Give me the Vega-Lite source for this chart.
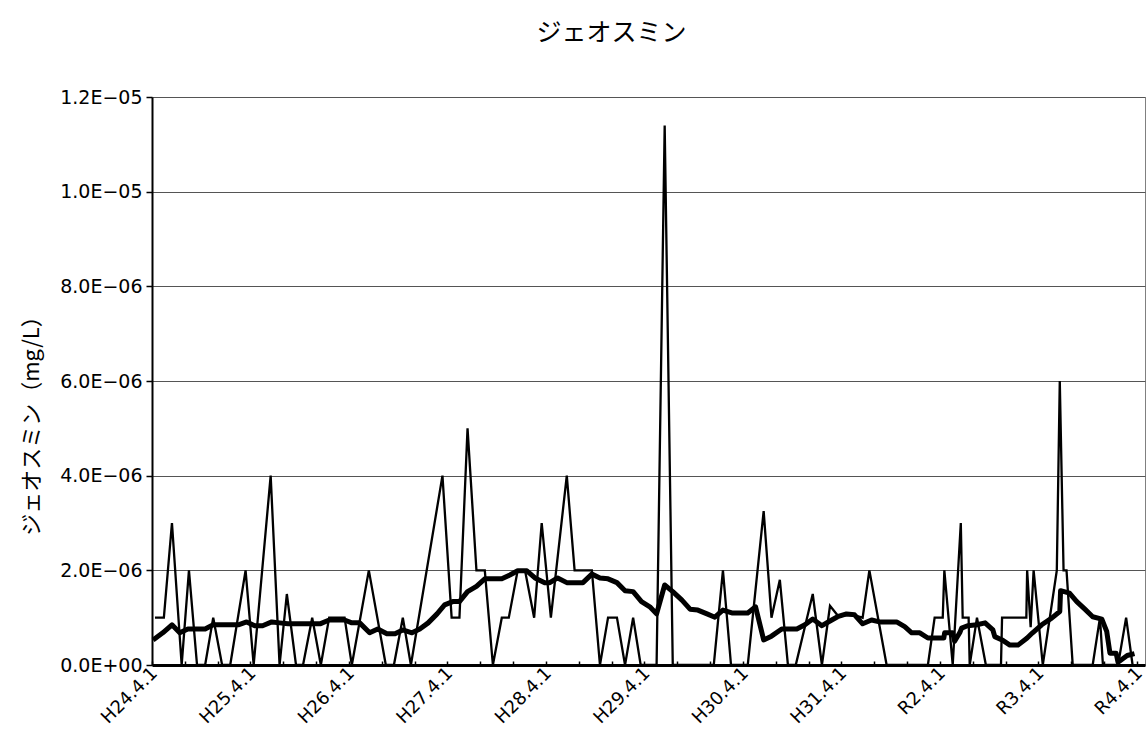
{
  "$schema": "https://vega.github.io/schema/vega-lite/v6.json",
  "width": 993,
  "height": 568,
  "autosize": {"type": "none"},
  "padding": {"left": 152, "top": 97, "right": 3, "bottom": 82},
  "background": "white",
  "config": {
    "view": {"stroke": "#808080", "strokeWidth": 1},
    "font": "DejaVu Sans"
  },
  "title": {
    "text": "ジェオスミン",
    "font": "Noto Sans CJK JP",
    "fontSize": 25,
    "fontWeight": "normal",
    "color": "black",
    "anchor": "middle",
    "frame": "group",
    "dx": -37,
    "offset": 42
  },
  "data": {
    "values": [
      {"date": "2012-04-12", "series": "raw", "value": 1e-6},
      {"date": "2012-05-15", "series": "raw", "value": 1e-6},
      {"date": "2012-06-14", "series": "raw", "value": 3e-6},
      {"date": "2012-07-20", "series": "raw", "value": 0},
      {"date": "2012-08-16", "series": "raw", "value": 2e-6},
      {"date": "2012-09-15", "series": "raw", "value": 0},
      {"date": "2012-10-15", "series": "raw", "value": 0},
      {"date": "2012-11-14", "series": "raw", "value": 1e-6},
      {"date": "2012-12-17", "series": "raw", "value": 0},
      {"date": "2013-01-16", "series": "raw", "value": 0},
      {"date": "2013-03-14", "series": "raw", "value": 2e-6},
      {"date": "2013-04-13", "series": "raw", "value": 0},
      {"date": "2013-06-15", "series": "raw", "value": 4e-6},
      {"date": "2013-07-18", "series": "raw", "value": 0},
      {"date": "2013-08-14", "series": "raw", "value": 1.5e-6},
      {"date": "2013-09-17", "series": "raw", "value": 0},
      {"date": "2013-10-13", "series": "raw", "value": 0},
      {"date": "2013-11-16", "series": "raw", "value": 1e-6},
      {"date": "2013-12-18", "series": "raw", "value": 0},
      {"date": "2014-01-18", "series": "raw", "value": 1e-6},
      {"date": "2014-02-16", "series": "raw", "value": 1e-6},
      {"date": "2014-03-16", "series": "raw", "value": 1e-6},
      {"date": "2014-04-12", "series": "raw", "value": 0},
      {"date": "2014-06-14", "series": "raw", "value": 2e-6},
      {"date": "2014-08-16", "series": "raw", "value": 0},
      {"date": "2014-09-15", "series": "raw", "value": 0},
      {"date": "2014-10-18", "series": "raw", "value": 1e-6},
      {"date": "2014-11-17", "series": "raw", "value": 0},
      {"date": "2015-03-14", "series": "raw", "value": 4e-6},
      {"date": "2015-04-17", "series": "raw", "value": 1e-6},
      {"date": "2015-05-16", "series": "raw", "value": 1e-6},
      {"date": "2015-06-15", "series": "raw", "value": 5e-6},
      {"date": "2015-07-18", "series": "raw", "value": 2e-6},
      {"date": "2015-08-18", "series": "raw", "value": 2e-6},
      {"date": "2015-09-17", "series": "raw", "value": 0},
      {"date": "2015-10-20", "series": "raw", "value": 1e-6},
      {"date": "2015-11-15", "series": "raw", "value": 1e-6},
      {"date": "2015-12-18", "series": "raw", "value": 2e-6},
      {"date": "2016-01-14", "series": "raw", "value": 2e-6},
      {"date": "2016-02-17", "series": "raw", "value": 1e-6},
      {"date": "2016-03-16", "series": "raw", "value": 3e-6},
      {"date": "2016-04-19", "series": "raw", "value": 1e-6},
      {"date": "2016-06-17", "series": "raw", "value": 4e-6},
      {"date": "2016-07-16", "series": "raw", "value": 2e-6},
      {"date": "2016-08-16", "series": "raw", "value": 2e-6},
      {"date": "2016-09-18", "series": "raw", "value": 2e-6},
      {"date": "2016-10-18", "series": "raw", "value": 0},
      {"date": "2016-11-17", "series": "raw", "value": 1e-6},
      {"date": "2016-12-20", "series": "raw", "value": 1e-6},
      {"date": "2017-01-19", "series": "raw", "value": 0},
      {"date": "2017-02-18", "series": "raw", "value": 1e-6},
      {"date": "2017-03-18", "series": "raw", "value": 0},
      {"date": "2017-04-17", "series": "raw", "value": 0},
      {"date": "2017-05-16", "series": "raw", "value": 0},
      {"date": "2017-06-15", "series": "raw", "value": 1.14e-5},
      {"date": "2017-07-15", "series": "raw", "value": 0},
      {"date": "2017-08-14", "series": "raw", "value": 0},
      {"date": "2017-09-17", "series": "raw", "value": 0},
      {"date": "2017-10-16", "series": "raw", "value": 0},
      {"date": "2017-11-15", "series": "raw", "value": 0},
      {"date": "2017-12-14", "series": "raw", "value": 0},
      {"date": "2018-01-17", "series": "raw", "value": 2e-6},
      {"date": "2018-02-16", "series": "raw", "value": 0},
      {"date": "2018-03-16", "series": "raw", "value": 0},
      {"date": "2018-04-19", "series": "raw", "value": 0},
      {"date": "2018-06-17", "series": "raw", "value": 3.25e-6},
      {"date": "2018-07-16", "series": "raw", "value": 1e-6},
      {"date": "2018-08-16", "series": "raw", "value": 1.8e-6},
      {"date": "2018-09-15", "series": "raw", "value": 0},
      {"date": "2018-10-14", "series": "raw", "value": 0},
      {"date": "2018-12-16", "series": "raw", "value": 1.5e-6},
      {"date": "2019-01-19", "series": "raw", "value": 0},
      {"date": "2019-02-18", "series": "raw", "value": 1.25e-6},
      {"date": "2019-03-18", "series": "raw", "value": 1.05e-6},
      {"date": "2019-04-20", "series": "raw", "value": 1.05e-6},
      {"date": "2019-05-20", "series": "raw", "value": 1.05e-6},
      {"date": "2019-06-19", "series": "raw", "value": 1e-6},
      {"date": "2019-07-14", "series": "raw", "value": 2e-6},
      {"date": "2019-09-16", "series": "raw", "value": 0},
      {"date": "2019-10-16", "series": "raw", "value": 0},
      {"date": "2019-11-19", "series": "raw", "value": 0},
      {"date": "2019-12-18", "series": "raw", "value": 0},
      {"date": "2020-01-17", "series": "raw", "value": 0},
      {"date": "2020-02-16", "series": "raw", "value": 0},
      {"date": "2020-03-12", "series": "raw", "value": 1e-6},
      {"date": "2020-04-11", "series": "raw", "value": 1e-6},
      {"date": "2020-04-17", "series": "raw", "value": 2e-6},
      {"date": "2020-05-18", "series": "raw", "value": 0},
      {"date": "2020-06-17", "series": "raw", "value": 3e-6},
      {"date": "2020-06-24", "series": "raw", "value": 1e-6},
      {"date": "2020-07-16", "series": "raw", "value": 1e-6},
      {"date": "2020-07-20", "series": "raw", "value": 0},
      {"date": "2020-08-16", "series": "raw", "value": 1e-6},
      {"date": "2020-09-18", "series": "raw", "value": 0},
      {"date": "2020-10-18", "series": "raw", "value": 0},
      {"date": "2020-11-13", "series": "raw", "value": 0},
      {"date": "2020-11-17", "series": "raw", "value": 1e-6},
      {"date": "2020-12-16", "series": "raw", "value": 1e-6},
      {"date": "2021-01-15", "series": "raw", "value": 1e-6},
      {"date": "2021-02-15", "series": "raw", "value": 1e-6},
      {"date": "2021-02-18", "series": "raw", "value": 2e-6},
      {"date": "2021-03-03", "series": "raw", "value": 0.8e-6},
      {"date": "2021-03-14", "series": "raw", "value": 2e-6},
      {"date": "2021-04-17", "series": "raw", "value": 0},
      {"date": "2021-06-08", "series": "raw", "value": 2e-6},
      {"date": "2021-06-19", "series": "raw", "value": 6e-6},
      {"date": "2021-07-03", "series": "raw", "value": 2e-6},
      {"date": "2021-07-14", "series": "raw", "value": 2e-6},
      {"date": "2021-08-06", "series": "raw", "value": 0},
      {"date": "2021-09-16", "series": "raw", "value": 0},
      {"date": "2021-10-19", "series": "raw", "value": 0},
      {"date": "2021-11-15", "series": "raw", "value": 1e-6},
      {"date": "2021-11-26", "series": "raw", "value": 0},
      {"date": "2021-12-21", "series": "raw", "value": 0},
      {"date": "2022-01-21", "series": "raw", "value": 0},
      {"date": "2022-02-20", "series": "raw", "value": 1e-6},
      {"date": "2022-03-16", "series": "raw", "value": 0},

      {"date": "2012-04-05", "series": "avg", "value": 0.53e-6},
      {"date": "2012-05-11", "series": "avg", "value": 0.68e-6},
      {"date": "2012-06-14", "series": "avg", "value": 0.85e-6},
      {"date": "2012-07-13", "series": "avg", "value": 0.68e-6},
      {"date": "2012-08-12", "series": "avg", "value": 0.76e-6},
      {"date": "2012-10-15", "series": "avg", "value": 0.76e-6},
      {"date": "2012-11-14", "series": "avg", "value": 0.85e-6},
      {"date": "2013-02-15", "series": "avg", "value": 0.85e-6},
      {"date": "2013-03-18", "series": "avg", "value": 0.91e-6},
      {"date": "2013-04-17", "series": "avg", "value": 0.83e-6},
      {"date": "2013-05-16", "series": "avg", "value": 0.83e-6},
      {"date": "2013-06-19", "series": "avg", "value": 0.91e-6},
      {"date": "2013-07-18", "series": "avg", "value": 0.89e-6},
      {"date": "2013-08-18", "series": "avg", "value": 0.87e-6},
      {"date": "2013-12-15", "series": "avg", "value": 0.87e-6},
      {"date": "2014-01-18", "series": "avg", "value": 0.95e-6},
      {"date": "2014-03-16", "series": "avg", "value": 0.95e-6},
      {"date": "2014-04-12", "series": "avg", "value": 0.89e-6},
      {"date": "2014-05-11", "series": "avg", "value": 0.89e-6},
      {"date": "2014-06-17", "series": "avg", "value": 0.68e-6},
      {"date": "2014-07-17", "series": "avg", "value": 0.76e-6},
      {"date": "2014-08-20", "series": "avg", "value": 0.66e-6},
      {"date": "2014-09-19", "series": "avg", "value": 0.66e-6},
      {"date": "2014-10-18", "series": "avg", "value": 0.74e-6},
      {"date": "2014-11-21", "series": "avg", "value": 0.68e-6},
      {"date": "2014-12-20", "series": "avg", "value": 0.76e-6},
      {"date": "2015-01-20", "series": "avg", "value": 0.89e-6},
      {"date": "2015-02-22", "series": "avg", "value": 1.08e-6},
      {"date": "2015-03-22", "series": "avg", "value": 1.27e-6},
      {"date": "2015-04-21", "series": "avg", "value": 1.34e-6},
      {"date": "2015-05-16", "series": "avg", "value": 1.34e-6},
      {"date": "2015-06-15", "series": "avg", "value": 1.55e-6},
      {"date": "2015-07-18", "series": "avg", "value": 1.66e-6},
      {"date": "2015-08-18", "series": "avg", "value": 1.82e-6},
      {"date": "2015-10-20", "series": "avg", "value": 1.82e-6},
      {"date": "2015-11-19", "series": "avg", "value": 1.9e-6},
      {"date": "2015-12-18", "series": "avg", "value": 1.99e-6},
      {"date": "2016-01-21", "series": "avg", "value": 1.99e-6},
      {"date": "2016-02-20", "series": "avg", "value": 1.84e-6},
      {"date": "2016-03-27", "series": "avg", "value": 1.74e-6},
      {"date": "2016-04-15", "series": "avg", "value": 1.74e-6},
      {"date": "2016-05-14", "series": "avg", "value": 1.84e-6},
      {"date": "2016-06-17", "series": "avg", "value": 1.74e-6},
      {"date": "2016-08-16", "series": "avg", "value": 1.74e-6},
      {"date": "2016-09-18", "series": "avg", "value": 1.92e-6},
      {"date": "2016-10-18", "series": "avg", "value": 1.84e-6},
      {"date": "2016-11-17", "series": "avg", "value": 1.82e-6},
      {"date": "2016-12-20", "series": "avg", "value": 1.74e-6},
      {"date": "2017-01-19", "series": "avg", "value": 1.57e-6},
      {"date": "2017-02-18", "series": "avg", "value": 1.55e-6},
      {"date": "2017-03-21", "series": "avg", "value": 1.34e-6},
      {"date": "2017-04-21", "series": "avg", "value": 1.23e-6},
      {"date": "2017-05-16", "series": "avg", "value": 1.08e-6},
      {"date": "2017-06-15", "series": "avg", "value": 1.69e-6},
      {"date": "2017-07-15", "series": "avg", "value": 1.55e-6},
      {"date": "2017-08-18", "series": "avg", "value": 1.37e-6},
      {"date": "2017-09-17", "series": "avg", "value": 1.18e-6},
      {"date": "2017-10-16", "series": "avg", "value": 1.16e-6},
      {"date": "2017-11-19", "series": "avg", "value": 1.08e-6},
      {"date": "2017-12-18", "series": "avg", "value": 1.01e-6},
      {"date": "2018-01-17", "series": "avg", "value": 1.16e-6},
      {"date": "2018-02-19", "series": "avg", "value": 1.1e-6},
      {"date": "2018-04-19", "series": "avg", "value": 1.1e-6},
      {"date": "2018-05-18", "series": "avg", "value": 1.23e-6},
      {"date": "2018-06-17", "series": "avg", "value": 0.53e-6},
      {"date": "2018-07-16", "series": "avg", "value": 0.61e-6},
      {"date": "2018-08-23", "series": "avg", "value": 0.76e-6},
      {"date": "2018-10-18", "series": "avg", "value": 0.76e-6},
      {"date": "2018-11-17", "series": "avg", "value": 0.85e-6},
      {"date": "2018-12-16", "series": "avg", "value": 0.97e-6},
      {"date": "2019-01-19", "series": "avg", "value": 0.83e-6},
      {"date": "2019-02-18", "series": "avg", "value": 0.93e-6},
      {"date": "2019-03-18", "series": "avg", "value": 1.02e-6},
      {"date": "2019-04-20", "series": "avg", "value": 1.08e-6},
      {"date": "2019-05-20", "series": "avg", "value": 1.06e-6},
      {"date": "2019-06-19", "series": "avg", "value": 0.87e-6},
      {"date": "2019-07-22", "series": "avg", "value": 0.95e-6},
      {"date": "2019-08-21", "series": "avg", "value": 0.91e-6},
      {"date": "2019-10-23", "series": "avg", "value": 0.91e-6},
      {"date": "2019-11-22", "series": "avg", "value": 0.81e-6},
      {"date": "2019-12-18", "series": "avg", "value": 0.68e-6},
      {"date": "2020-01-17", "series": "avg", "value": 0.68e-6},
      {"date": "2020-02-16", "series": "avg", "value": 0.57e-6},
      {"date": "2020-04-15", "series": "avg", "value": 0.57e-6},
      {"date": "2020-04-18", "series": "avg", "value": 0.68e-6},
      {"date": "2020-05-18", "series": "avg", "value": 0.68e-6},
      {"date": "2020-05-25", "series": "avg", "value": 0.5e-6},
      {"date": "2020-06-13", "series": "avg", "value": 0.68e-6},
      {"date": "2020-06-20", "series": "avg", "value": 0.78e-6},
      {"date": "2020-07-12", "series": "avg", "value": 0.83e-6},
      {"date": "2020-08-16", "series": "avg", "value": 0.85e-6},
      {"date": "2020-09-15", "series": "avg", "value": 0.89e-6},
      {"date": "2020-10-14", "series": "avg", "value": 0.74e-6},
      {"date": "2020-10-21", "series": "avg", "value": 0.6e-6},
      {"date": "2020-11-17", "series": "avg", "value": 0.53e-6},
      {"date": "2020-12-16", "series": "avg", "value": 0.42e-6},
      {"date": "2021-01-15", "series": "avg", "value": 0.42e-6},
      {"date": "2021-02-18", "series": "avg", "value": 0.57e-6},
      {"date": "2021-03-10", "series": "avg", "value": 0.68e-6},
      {"date": "2021-04-13", "series": "avg", "value": 0.85e-6},
      {"date": "2021-05-20", "series": "avg", "value": 0.99e-6},
      {"date": "2021-06-19", "series": "avg", "value": 1.13e-6},
      {"date": "2021-06-22", "series": "avg", "value": 1.57e-6},
      {"date": "2021-07-25", "series": "avg", "value": 1.52e-6},
      {"date": "2021-08-21", "series": "avg", "value": 1.34e-6},
      {"date": "2021-09-20", "series": "avg", "value": 1.18e-6},
      {"date": "2021-10-19", "series": "avg", "value": 1.02e-6},
      {"date": "2021-11-22", "series": "avg", "value": 0.97e-6},
      {"date": "2021-12-10", "series": "avg", "value": 0.71e-6},
      {"date": "2021-12-22", "series": "avg", "value": 0.25e-6},
      {"date": "2022-01-14", "series": "avg", "value": 0.25e-6},
      {"date": "2022-01-21", "series": "avg", "value": 0.06e-6},
      {"date": "2022-02-24", "series": "avg", "value": 0.2e-6},
      {"date": "2022-03-23", "series": "avg", "value": 0.24e-6}
    ]
  },
  "encoding": {
    "x": {
      "field": "date",
      "type": "temporal",
      "scale": {
        "type": "utc",
        "domain": [
          {"year": 2012, "month": 4, "date": 1, "utc": true},
          {"year": 2022, "month": 5, "date": 1, "utc": true}
        ]
      },
      "axis": {
        "title": null,
        "grid": false,
        "values": [
          {"year": 2012, "month": 4, "date": 1, "utc": true},
          {"year": 2012, "month": 8, "date": 1, "utc": true},
          {"year": 2012, "month": 12, "date": 1, "utc": true},
          {"year": 2013, "month": 4, "date": 1, "utc": true},
          {"year": 2013, "month": 8, "date": 1, "utc": true},
          {"year": 2013, "month": 12, "date": 1, "utc": true},
          {"year": 2014, "month": 4, "date": 1, "utc": true},
          {"year": 2014, "month": 8, "date": 1, "utc": true},
          {"year": 2014, "month": 12, "date": 1, "utc": true},
          {"year": 2015, "month": 4, "date": 1, "utc": true},
          {"year": 2015, "month": 8, "date": 1, "utc": true},
          {"year": 2015, "month": 12, "date": 1, "utc": true},
          {"year": 2016, "month": 4, "date": 1, "utc": true},
          {"year": 2016, "month": 8, "date": 1, "utc": true},
          {"year": 2016, "month": 12, "date": 1, "utc": true},
          {"year": 2017, "month": 4, "date": 1, "utc": true},
          {"year": 2017, "month": 8, "date": 1, "utc": true},
          {"year": 2017, "month": 12, "date": 1, "utc": true},
          {"year": 2018, "month": 4, "date": 1, "utc": true},
          {"year": 2018, "month": 8, "date": 1, "utc": true},
          {"year": 2018, "month": 12, "date": 1, "utc": true},
          {"year": 2019, "month": 4, "date": 1, "utc": true},
          {"year": 2019, "month": 8, "date": 1, "utc": true},
          {"year": 2019, "month": 12, "date": 1, "utc": true},
          {"year": 2020, "month": 4, "date": 1, "utc": true},
          {"year": 2020, "month": 8, "date": 1, "utc": true},
          {"year": 2020, "month": 12, "date": 1, "utc": true},
          {"year": 2021, "month": 4, "date": 1, "utc": true},
          {"year": 2021, "month": 8, "date": 1, "utc": true},
          {"year": 2021, "month": 12, "date": 1, "utc": true},
          {"year": 2022, "month": 4, "date": 1, "utc": true}
        ],
        "labelExpr": "utcmonth(datum.value) == 3 ? (utcyear(datum.value) < 2020 ? 'H' + (utcyear(datum.value) - 1988) : 'R' + (utcyear(datum.value) - 2018)) + '.4.1' : ''",
        "labelAngle": -45,
        "labelFont": "DejaVu Sans",
        "labelFontSize": 18,
        "labelColor": "black",
        "labelPadding": 3,
        "labelOffset": -4,
        "labelOverlap": false,
        "domainColor": "black",
        "domainWidth": 3,
        "tickColor": "black",
        "tickWidth": 1.5,
        "tickSize": -4
      }
    },
    "y": {
      "field": "value",
      "type": "quantitative",
      "scale": {"domain": [0, 1.2e-5]},
      "axis": {
        "title": "ジェオスミン（mg/L）",
        "titleFont": "Noto Sans CJK JP",
        "titleFontSize": 22,
        "titleFontWeight": "normal",
        "titleColor": "black",
        "titlePadding": 16,
        "titleY": 323,
        "values": [0, 2e-6, 4e-6, 6e-6, 8e-6, 1e-5, 1.2e-5],
        "labelExpr": "replace(replace(replace(format(datum.value, '.1e'), 'e-', 'E−0'), 'e−', 'E−0'), 'e+', 'E+0')",
        "labelFont": "DejaVu Sans",
        "labelFontSize": 19,
        "labelColor": "black",
        "labelPadding": 4,
        "grid": true,
        "gridColor": "#555555",
        "gridWidth": 1,
        "domainColor": "black",
        "domainWidth": 2,
        "tickColor": "black",
        "tickWidth": 1.5,
        "tickSize": 6
      }
    }
  },
  "layer": [
    {
      "transform": [{"filter": "datum.series == 'raw'"}],
      "mark": {"type": "line", "color": "black", "strokeWidth": 2.3, "strokeJoin": "miter"}
    },
    {
      "transform": [{"filter": "datum.series == 'avg'"}],
      "mark": {"type": "line", "color": "black", "strokeWidth": 5, "strokeJoin": "round"}
    }
  ]
}
